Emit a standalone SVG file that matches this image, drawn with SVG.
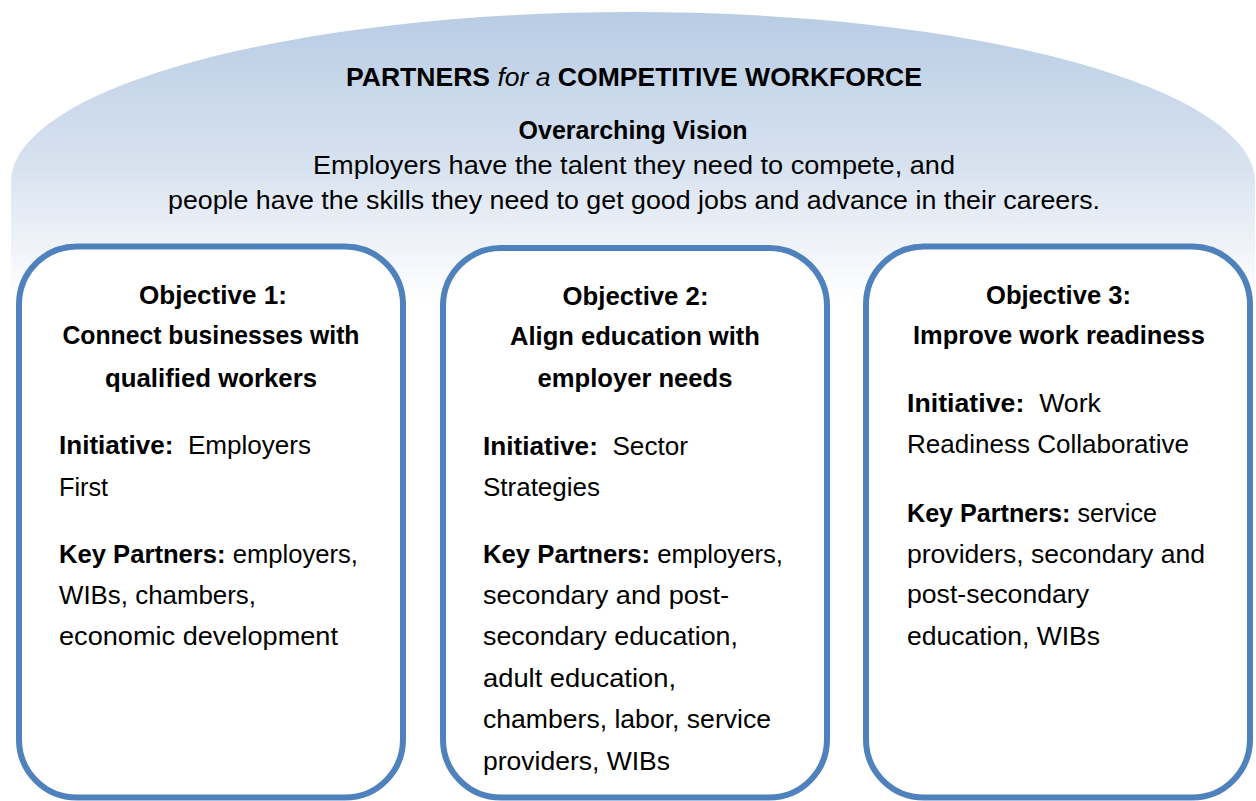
<svg xmlns="http://www.w3.org/2000/svg" width="1256" height="801" viewBox="0 0 1256 801">
  <defs>
    <linearGradient id="domeFill" gradientUnits="userSpaceOnUse" x1="0" y1="12" x2="0" y2="300">
      <stop offset="0" stop-color="#b8cce4"/>
      <stop offset="0.55" stop-color="#d9e3f0"/>
      <stop offset="1" stop-color="#ffffff"/>
    </linearGradient>
  </defs>
  <style>
    text { font-family: "Liberation Sans", Arial, sans-serif; fill: #000000; }
    .title { font-size: 26px; font-weight: bold; }
    .vision-head { font-size: 25px; font-weight: bold; }
    .vision { font-size: 25px; }
    .obj { font-size: 26px; font-weight: bold; text-anchor: middle; }
    .body { font-size: 26px; }
    .b { font-weight: bold; }
    .it { font-style: italic; font-weight: normal; }
    .card { fill: #ffffff; stroke: #4f81bd; stroke-width: 6; }
  </style>

  <rect width="1256" height="801" fill="#ffffff"/>

  <!-- Overarching vision dome -->
  <g id="vision">
    <path d="M 11 801 L 11 182 A 622 170 0 0 1 1255 182 L 1255 801 Z" fill="url(#domeFill)"/>
    <text class="title" x="634" y="86" text-anchor="middle" textLength="576" lengthAdjust="spacingAndGlyphs">PARTNERS <tspan class="it">for a</tspan> COMPETITIVE WORKFORCE</text>
    <text class="vision-head" x="633" y="139" text-anchor="middle" textLength="229" lengthAdjust="spacingAndGlyphs">Overarching Vision</text>
    <text class="vision" x="634" y="174" text-anchor="middle" textLength="642" lengthAdjust="spacingAndGlyphs">Employers have the talent they need to compete, and</text>
    <text class="vision" x="634" y="209" text-anchor="middle" textLength="932" lengthAdjust="spacingAndGlyphs">people have the skills they need to get good jobs and advance in their careers.</text>
  </g>

  <!-- Objective 1 -->
  <g id="objective-1">
    <rect class="card" x="19" y="246.5" width="384" height="551" rx="58" ry="58"/>
    <text class="obj" x="213" y="304" textLength="148" lengthAdjust="spacingAndGlyphs">Objective 1:</text>
    <text class="obj" x="211" y="344" textLength="297" lengthAdjust="spacingAndGlyphs">Connect businesses with</text>
    <text class="obj" x="211" y="387" textLength="212" lengthAdjust="spacingAndGlyphs">qualified workers</text>
    <text class="body" x="59" y="454" textLength="252" lengthAdjust="spacingAndGlyphs"><tspan class="b">Initiative:</tspan>&#160; Employers</text>
    <text class="body" x="59" y="496" textLength="49" lengthAdjust="spacingAndGlyphs">First</text>
    <text class="body" x="59" y="563" textLength="299" lengthAdjust="spacingAndGlyphs"><tspan class="b">Key Partners:</tspan> employers,</text>
    <text class="body" x="59" y="604" textLength="197" lengthAdjust="spacingAndGlyphs">WIBs, chambers,</text>
    <text class="body" x="59" y="645" textLength="279" lengthAdjust="spacingAndGlyphs">economic development</text>
  </g>

  <!-- Objective 2 -->
  <g id="objective-2">
    <rect class="card" x="443" y="248" width="384" height="549.5" rx="58" ry="58"/>
    <text class="obj" x="635.5" y="305" textLength="146" lengthAdjust="spacingAndGlyphs">Objective 2:</text>
    <text class="obj" x="635" y="345" textLength="250" lengthAdjust="spacingAndGlyphs">Align education with</text>
    <text class="obj" x="635" y="387" textLength="195" lengthAdjust="spacingAndGlyphs">employer needs</text>
    <text class="body" x="483" y="455" textLength="205" lengthAdjust="spacingAndGlyphs"><tspan class="b">Initiative:</tspan>&#160; Sector</text>
    <text class="body" x="483" y="496" textLength="117" lengthAdjust="spacingAndGlyphs">Strategies</text>
    <text class="body" x="483" y="563" textLength="300" lengthAdjust="spacingAndGlyphs"><tspan class="b">Key Partners:</tspan> employers,</text>
    <text class="body" x="483" y="604" textLength="246" lengthAdjust="spacingAndGlyphs">secondary and post-</text>
    <text class="body" x="483" y="645" textLength="255" lengthAdjust="spacingAndGlyphs">secondary education,</text>
    <text class="body" x="483" y="687" textLength="193" lengthAdjust="spacingAndGlyphs">adult education,</text>
    <text class="body" x="483" y="728" textLength="288" lengthAdjust="spacingAndGlyphs">chambers, labor, service</text>
    <text class="body" x="483" y="770" textLength="187" lengthAdjust="spacingAndGlyphs">providers, WIBs</text>
  </g>

  <!-- Objective 3 -->
  <g id="objective-3">
    <rect class="card" x="866" y="246.5" width="384" height="551" rx="58" ry="58"/>
    <text class="obj" x="1058.5" y="304" textLength="145" lengthAdjust="spacingAndGlyphs">Objective 3:</text>
    <text class="obj" x="1059" y="344" textLength="292" lengthAdjust="spacingAndGlyphs">Improve work readiness</text>
    <text class="body" x="907" y="412" textLength="194" lengthAdjust="spacingAndGlyphs"><tspan class="b">Initiative:</tspan>&#160; Work</text>
    <text class="body" x="907" y="453" textLength="282" lengthAdjust="spacingAndGlyphs">Readiness Collaborative</text>
    <text class="body" x="907" y="522" textLength="250" lengthAdjust="spacingAndGlyphs"><tspan class="b">Key Partners:</tspan> service</text>
    <text class="body" x="907" y="563" textLength="298" lengthAdjust="spacingAndGlyphs">providers, secondary and</text>
    <text class="body" x="907" y="603" textLength="182" lengthAdjust="spacingAndGlyphs">post-secondary</text>
    <text class="body" x="907" y="645" textLength="193" lengthAdjust="spacingAndGlyphs">education, WIBs</text>
  </g>
</svg>
